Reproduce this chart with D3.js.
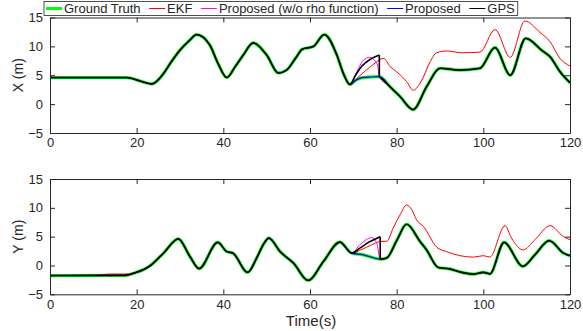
<!DOCTYPE html>
<html>
<head>
<meta charset="utf-8">
<script src="https://cdn.jsdelivr.net/npm/d3@7"></script>
<style>
  body { margin: 0; background: #fff; }
  svg { display: block; font-family: "Liberation Sans", Arial, sans-serif; }
</style>
</head>
<body>
<svg id="chart" width="583" height="331"></svg>
<script>
// ---- data (time in s, position in m) ----
// X panel, ground truth
const tX  = [0, 17.7, 20.8, 23.5, 26.2, 27.7, 30, 32.3, 33.8, 36.9, 38.8, 40.8, 42.7, 44.6, 46.9, 50, 52.7, 54.6, 56.9, 58.2,
             60.8, 63.3, 66.2, 67.7, 69.2, 70.5, 72, 74, 76, 78.5, 80.8, 83.8, 86.9, 90, 94.6, 99.2, 102.7, 106.2, 109.8, 113.5,
             115.4, 117.7, 120];
const gtX = [4.6, 4.6, 4.0, 3.5, 5.3, 7.0, 9.35, 11.1, 12.05, 10.2, 7.0, 4.6, 6.45, 8.5, 10.6, 8.5, 5.4, 5.9, 8.2, 9.5,
             10.0, 12.05, 8.5, 5.3, 3.4, 4.1, 4.6, 4.7, 4.75, 3.0, 1.3, -0.95, 3.0, 6.2, 5.9, 6.2, 9.8, 5.0, 11.4, 9.3,
             8.2, 5.6, 3.7];
// X panel, EKF after it drifts off
const tEkfX = [69.2, 71, 73, 75, 76.3, 77, 78.5, 80, 82.3, 83.8, 85.8, 87.7, 89.2, 91.5, 95, 99.2, 102.7, 106.2, 109.6, 113.1, 115.4, 117.7, 120];
const ekfX  = [3.4, 4.6, 5.9, 7.1, 7.8, 7.9, 6.5, 5.6, 3.9, 2.4, 4.15, 7.3, 8.9, 9.2, 8.9, 9.0, 12.9, 8.1, 14.4, 12.4, 10.8, 7.9, 6.6];
// X panel, outage segment of "w/o rho" and GPS
const tRhoX = [69.2, 71.2, 72.3, 73.8, 74.9, 75.6, 76];
const rhoX  = [3.4, 6.2, 7.6, 8.1, 7.6, 6.75, 4.75];
const tGpsX = [69.2, 70.5, 72, 74, 76];
const gpsX  = [3.4, 5.0, 6.6, 7.8, 8.5];

// Y panel, ground truth
const tY  = [0, 17.3, 19.5, 21.5, 23.1, 26.2, 29.6, 32.3, 34.4, 38.7, 40.8, 42.2, 45.6, 47.7, 49.2, 50.5, 53.1, 56.2, 59.6, 63.1,
             66.9, 69.6, 72.3, 76.2, 77.7, 80, 82.3, 85.4, 86.9, 89.6, 92.3, 95, 97.7, 100, 101.5, 104.8, 109.1, 111.9, 115.2, 118.5, 120];
const gtY = [-1.75, -1.72, -1.3, -0.75, -0.05, 2.15, 4.6, 1.55, -0.55, 4.0, 2.4, 2.15, -1.2, 1.3, 3.6, 4.75, 2.4, 0.4, -2.6, 0.7,
             4.05, 2.15, 1.85, 1.1, 1.3, 4.3, 7.15, 4.15, 2.7, -0.35, -0.6, -1.2, -1.5, -1.2, -1.45, 4.0, -0.15, 1.85, 4.3, 2.15, 1.7];
// Y panel, EKF (small early bump, then drift)
const tEkfYHead = [10.4, 13.5, 17.3, 19.5];
const ekfYHead  = [-1.72, -1.5, -1.5, -1.25];
const tEkfY = [69.6, 72, 74, 76.2, 77.7, 79.2, 80.8, 82.3, 83.5, 84.6, 86.2, 89.2, 91.5, 94.6, 97.7, 100, 101.5, 105, 106.5, 109.2, 111.9, 115.4, 118.5, 120];
const ekfY  = [2.15, 2.8, 3.5, 4.15, 4.2, 6.5, 8.8, 10.5, 9.65, 7.9, 6.75, 3.2, 2.4, 1.7, 1.45, 1.7, 1.45, 6.9, 4.75, 2.7, 4.45, 6.9, 5.0, 4.45];
const tRhoY = [69.6, 71.5, 73, 74.2, 75.4, 76.2];
const rhoY  = [2.15, 3.6, 4.5, 4.85, 3.9, 1.1];
const tGpsY = [69.6, 71.5, 73.5, 76.2];
const gpsY  = [2.15, 3.0, 4.0, 5.0];

const legendNames = ["Ground Truth", "EKF", "Proposed (w/o rho function)", "Proposed", "GPS"];
const colors = ["#00ff00", "#ff0000", "#ff00ff", "#0000ff", "#000000"];
const widths = [3.2, 1, 1, 1.2, 1.6];
const xTicks = [0, 20, 40, 60, 80, 100, 120];
const yTicks = [-5, 0, 5, 10, 15];

const pts = (t, v) => t.map((d, i) => [d, v[i]]);
// replace the part of base covered by seg
const splice = (base, seg) => {
  const t0 = seg[0][0], t1 = seg[seg.length - 1][0];
  return base.filter(p => p[0] < t0).concat(seg, base.filter(p => p[0] > t1));
};

const svg = d3.select("#chart");
const axisColor = "#262626";
const x = d3.scaleLinear().domain([0, 120]).range([50, 570]);

function panel(top, bottom, label, gt, ekf, rho, gps) {
  const y = d3.scaleLinear().domain([-5, 15]).range([bottom, top]);
  const g = svg.append("g");
  const curve = d3.line().x(d => x(d[0])).y(d => y(d[1])).curve(d3.curveMonotoneX);
  const straight = d3.line().x(d => x(d[0])).y(d => y(d[1]));

  const gpsEnd = gps[gps.length - 1];
  const gtAtEnd = gt.find(p => p[0] === gpsEnd[0]);

  const series = [
    [[gt, curve]],
    [[ekf, curve]],
    [[splice(gt, rho), curve]],
    [[gt, curve]],
    [[gt.filter(p => p[0] < gps[0][0]).concat(gps), curve],
     [[gpsEnd, gtAtEnd], straight],
     [gt.filter(p => p[0] >= gpsEnd[0]), curve]]
  ];
  series.forEach((pieces, i) => {
    pieces.forEach(([data, gen]) => {
      g.append("path")
        .attr("d", gen(data))
        .attr("fill", "none")
        .attr("stroke", colors[i])
        .attr("stroke-width", widths[i])
        .attr("stroke-linejoin", "round");
    });
  });

  const style = sel => {
    sel.select(".domain").attr("stroke", axisColor);
    sel.selectAll(".tick line").attr("stroke", axisColor);
    sel.selectAll(".tick text").attr("fill", axisColor).style("font-size", "13px")
      .style("font-family", '"Liberation Sans", Arial, sans-serif');
  };

  g.append("g").attr("transform", `translate(0,${bottom})`)
    .call(d3.axisBottom(x).tickValues(xTicks).tickSize(-5).tickSizeOuter(0).tickPadding(5)).call(style);
  g.append("g").attr("transform", `translate(0,${top})`)
    .call(d3.axisTop(x).tickValues(xTicks).tickSize(-5).tickSizeOuter(0).tickFormat("")).call(style);
  g.append("g").attr("transform", "translate(50,0)")
    .call(d3.axisLeft(y).tickValues(yTicks).tickSize(-5).tickSizeOuter(0).tickPadding(7)).call(style);
  g.append("g").attr("transform", "translate(570,0)")
    .call(d3.axisRight(y).tickValues(yTicks).tickSize(-5).tickSizeOuter(0).tickFormat("")).call(style);

  g.append("text")
    .attr("transform", `translate(22.5,${(top + bottom) / 2}) rotate(-90)`)
    .attr("text-anchor", "middle")
    .attr("fill", axisColor)
    .style("font-size", "14px")
    .text(label);
}

panel(17.5, 133, "X (m)", pts(tX, gtX),
  splice(pts(tX, gtX), pts(tEkfX, ekfX)), pts(tRhoX, rhoX), pts(tGpsX, gpsX));
panel(179, 294.3, "Y (m)", pts(tY, gtY),
  splice(splice(pts(tY, gtY), pts(tEkfYHead, ekfYHead)), pts(tEkfY, ekfY)), pts(tRhoY, rhoY), pts(tGpsY, gpsY));

svg.append("text")
  .attr("x", 311).attr("y", 326)
  .attr("text-anchor", "middle")
  .attr("fill", axisColor)
  .style("font-size", "15px")
  .text("Time(s)");

// legend box across the top
const leg = svg.append("g");
const box = leg.append("rect")
  .attr("x", 44).attr("y", 1.5).attr("height", 14)
  .attr("fill", "#fff").attr("stroke", axisColor).attr("stroke-width", 0.8);
let cx = 46;
legendNames.forEach((name, i) => {
  leg.append("line")
    .attr("x1", cx).attr("x2", cx + 16).attr("y1", 8.5).attr("y2", 8.5)
    .attr("stroke", colors[i]).attr("stroke-width", i === 0 ? 3 : 1);
  const t = leg.append("text")
    .attr("x", cx + 18).attr("y", 13)
    .attr("fill", axisColor)
    .style("font-size", "13px")
    .text(name);
  cx += 18 + t.node().getComputedTextLength() + (i < legendNames.length - 1 ? 8.5 : 3);
});
box.attr("width", cx - 44);
</script>
</body>
</html>
